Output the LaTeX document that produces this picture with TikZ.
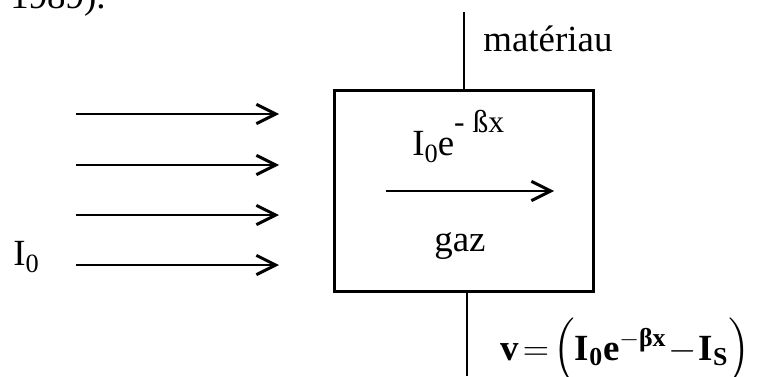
\documentclass[tikz,border=0pt]{standalone}
\usepackage{amsmath}
\usepackage{fontspec}
\setmainfont{Liberation Serif}
\usepackage{tikz}
\usetikzlibrary{arrows.meta, positioning, calc}
\newcommand{\lowsub}[1]{\raisebox{-0.2em}{\fontsize{15}{15}\selectfont #1}}
\newcommand{\highsup}[1]{\raisebox{0.6em}{\fontsize{18}{18}\selectfont #1}}
\tikzset{
  beam/.style={->, line width=1.7pt},
  txt/.style={inner sep=0pt, anchor=base west}
}

\begin{document}
\begin{tikzpicture}[x=0.02cm, y=0.02cm, font=\fontsize{21}{25}\selectfont,
    >={Straight Barb[length=11pt, width=11pt]}]
  \clip (0,0) rectangle (761,376);
  \node[txt] (year) at (10,367) {1989).};
  % cell with the gas
  \node[draw, line width=1.7pt, minimum width=5.2cm, minimum height=4.04cm]
        (gasbox) at (464,185) {};
  \coordinate (top) at (464,364);
  \coordinate (bot) at (467,0);
  \draw[line width=1.1pt] (gasbox.north) -- (top);
  \draw[line width=1.1pt] (gasbox.south -| bot) -- (bot);
  \node[txt] (mat) at (483,324) {matériau};
  % incoming beam
  \foreach \y [count=\i] in {262,211,161,111}{
    \coordinate (s\i) at (76,\y);
    \coordinate (e\i) at (279,\y);
    \draw[beam] (s\i) -- (e\i);
  }
  \node[txt] (izero) at (13,111) {I\lowsub{0}};
  \node[txt] (flux) at (412,221) {I\lowsub{0}e\highsup{- ßx}};
  \coordinate (in) at (386,185);
  \coordinate (out) at (554,185);
  \draw[beam] (in) -- (out);
  \node[txt] (gaz) at (434,125) {gaz};
  \node[txt, font=\fontsize{21}{26}\selectfont\bfseries] (volt) at (500,16)
        {$\text{v}\!=\!\Bigl(\text{I}_{\text{0}}\text{e}^{-\text{βx}}\!-\!\text{I}_{\text{S}}\Bigr)$};
\end{tikzpicture}
\end{document}
